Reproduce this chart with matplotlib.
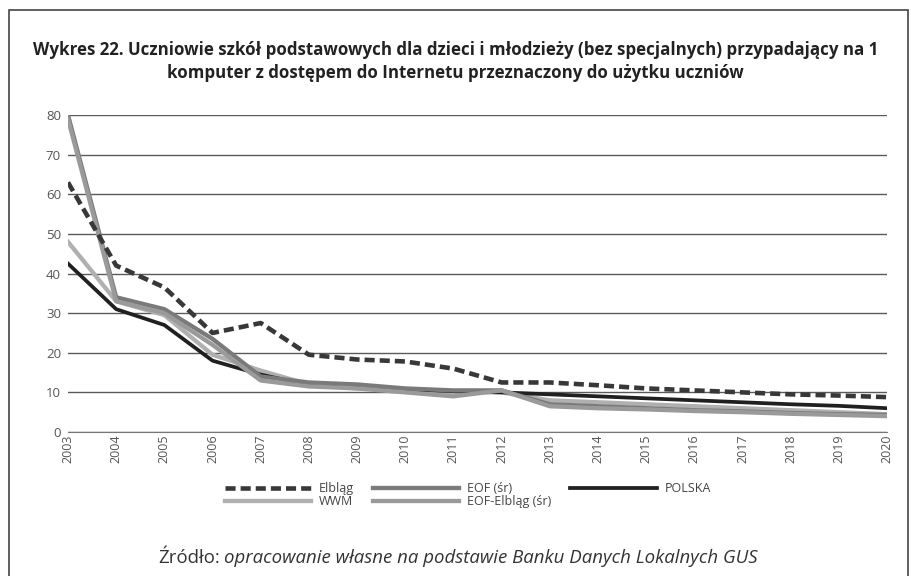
import numpy as np
import matplotlib.pyplot as plt
from matplotlib.patches import Rectangle

plt.rcParams['font.family'] = ['Open Sans', 'DejaVu Sans']

years = list(range(2003, 2021))

elblag = [63, 42, 36.5, 25, 27.5, 19.5, 18.3, 17.8, 16, 12.5, 12.5, 11.8, 11, 10.5, 10, 9.5, 9.2, 8.8]
eof_sr = [80, 34, 31, 23.5, 14, 12.5, 12, 11, 10.5, 10.5, 7, 6.5, 6, 5.5, 5.2, 4.8, 4.5, 4.3]
polska = [42.5, 31, 27, 18, 14.5, 11.8, 11.5, 10.8, 10.3, 10, 9.5, 9, 8.5, 8, 7.5, 7, 6.6, 6]
wwm = [48, 33, 29.5, 19.5, 15.5, 12, 11, 10.5, 10, 10, 8, 7.5, 7, 6.5, 6, 5.5, 5, 4.5]
eof_bez_elblaga = [79, 33, 30, 22, 13, 11.5, 11, 10, 9, 10.5, 6.5, 6, 5.7, 5.3, 5, 4.6, 4.3, 4]

yticks = [0, 10, 20, 30, 40, 50, 60, 70, 80]

title = ('Wykres 22. Uczniowie szkół podstawowych dla dzieci i młodzieży (bez specjalnych) przypadający na 1\n'
         'komputer z dostępem do Internetu przeznaczony do użytku uczniów')

fig = plt.figure(figsize=(9.11, 5.76), dpi=100)
ax = fig.add_axes([68/911, 0.25, (887-68)/911, 0.5503])

l1, = ax.plot(years, elblag, color='#383838', lw=3.3, ls=(0, (2.2, 1.1)), label='Elbląg', zorder=5)
l2, = ax.plot(years, eof_sr, color='#7a7a7a', lw=3.1, label='EOF (śr)', zorder=4)
l3, = ax.plot(years, polska, color='#202020', lw=2.7, label='POLSKA', zorder=3)
l4, = ax.plot(years, wwm, color='#b0b0b0', lw=3.1, label='WWM', zorder=2)
l5, = ax.plot(years, eof_bez_elblaga, color='#9a9a9a', lw=3.1, label='EOF-Elbląg (śr)', zorder=4)

ax.set_xlim(2003, 2020)
ax.set_ylim(0, 80)
ax.set_yticks(yticks)
ax.set_xticks(years)
ax.set_xticklabels([str(y) for y in years], rotation=90, fontsize=9, color='#555555')
ax.tick_params(axis='y', labelsize=9.5, labelcolor='#555555', length=0, pad=5)
ax.tick_params(axis='x', length=0, pad=2)
ax.grid(axis='y', color='#5a5a5a', lw=1)
ax.set_axisbelow(True)
for s in ['left', 'right', 'top']:
    ax.spines[s].set_visible(False)
ax.spines['bottom'].set_color('#777777')

fig.text(0.5, 0.893, title, ha='center', va='center', fontsize=12.2, fontweight='bold',
         color='#222222', linespacing=1.4)

# three columns, filled row by row
handles = [l1, l4, l2, l5, l3]
leg = fig.legend(handles=handles, labels=[h.get_label() for h in handles], ncol=3,
                 loc='upper left', bbox_to_anchor=(225/911, 1 - 482/576), frameon=False,
                 fontsize=9, handlelength=6.9, handletextpad=0.64, columnspacing=1.5,
                 labelspacing=0.0, labelcolor='#444444', borderpad=0, borderaxespad=0)

fig.text(158/911, 0.032, 'Źródło:', ha='left', va='center', fontsize=13.4, color='#333333')
fig.text(224/911, 0.032, 'opracowanie własne na podstawie Banku Danych Lokalnych GUS', ha='left',
         va='center', fontsize=13.4, style='italic', color='#333333')

fig.patches.append(Rectangle((9/911, -0.1), (908-9)/911, 1.1 - 10/576, fill=False,
                             edgecolor='#444444', lw=1.2, transform=fig.transFigure))

fig.savefig('out.png', dpi=100)
